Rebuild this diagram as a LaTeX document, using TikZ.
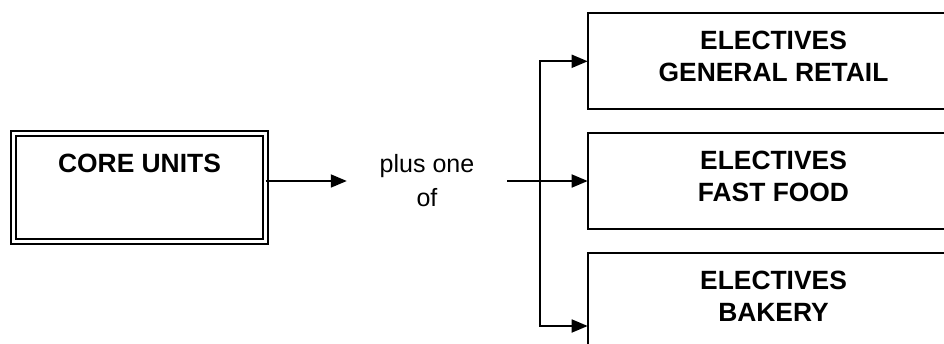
\documentclass[tikz,border=0pt]{standalone}
\usepackage{fontspec}
\setmainfont{Liberation Sans}
\usetikzlibrary{arrows.meta}
\begin{document}
\begin{tikzpicture}[x=1pt,y=-1pt,
  box/.style={draw=black,line width=1.8pt,rectangle,inner sep=0pt,outer sep=0pt,minimum width=372pt,minimum height=96pt,anchor=north west},
  corebox/.style={draw=black,double=white,line width=1.8pt,double distance=3pt,rectangle,inner sep=0pt,outer sep=0pt,minimum width=252pt,minimum height=108pt},
  title/.style={font=\fontsize{26.4}{32}\selectfont\bfseries,align=center,inner sep=0pt,anchor=base},
  plustxt/.style={font=\fontsize{25}{34}\selectfont,align=center,inner sep=0pt,minimum width=160pt},
  arr/.style={line width=1.8pt,-{Triangle[length=16pt,width=13pt]}},
  ln/.style={line width=1.8pt}]
\useasboundingbox (0,0) rectangle (944,344);
\clip (0,0) rectangle (944,344);
\fill[white] (0,0) rectangle (944,344);
% core
\node[corebox] (core) at (139.5,187.5) {};
\node[title] (coretxt) at (139.5,173) {CORE UNITS};
% middle text
\node[plustxt] (plus) at (427,181) {plus one\\of};
% elective boxes
\node[box] (gr) at (587.7,13.3) {};
\node[box] (ff) at (587.7,133) {};
\node[box] (bk) at (587.7,253.3) {};
\node[title] (grtxt) at (773.5,82) {ELECTIVES\\GENERAL RETAIL};
\node[title] (fftxt) at (773.5,202) {ELECTIVES\\FAST FOOD};
\node[title] (bktxt) at (773.5,321) {ELECTIVES\\BAKERY};
% connectors
\coordinate (split) at (540,181);
\coordinate (ybk) at (0,326);
\draw[arr] (core.east |- plus.west) -- (plus.west);
\draw[arr] (plus.east) -- (ff.west);
\draw[arr] (split) |- (gr.west);
\draw[arr] (split) |- (bk.west |- ybk);
\end{tikzpicture}
\end{document}
